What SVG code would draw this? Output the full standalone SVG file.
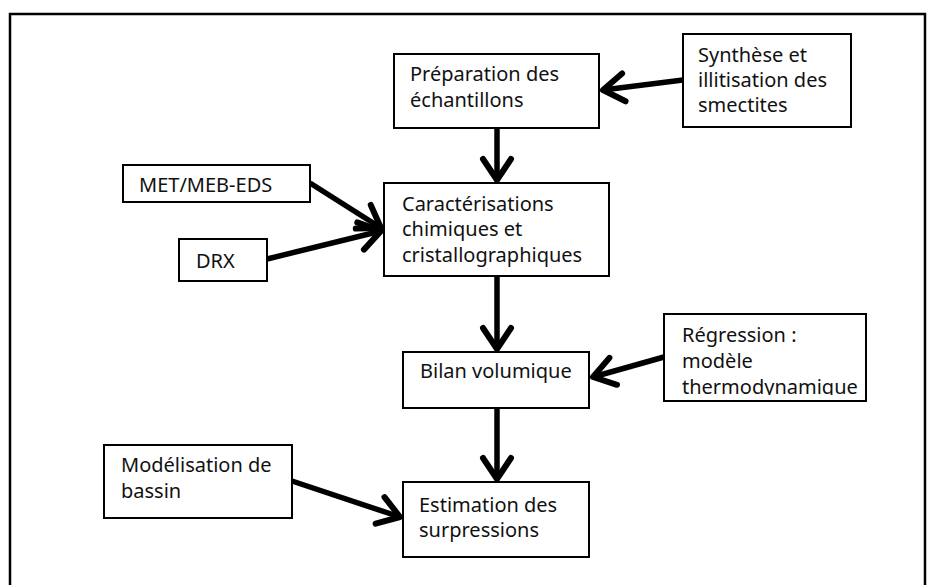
<svg xmlns="http://www.w3.org/2000/svg" width="930" height="585" viewBox="0 0 930 585">
<style>
.box{fill:#fff;stroke:#000;stroke-width:2}
.t{font-family:"Noto Sans","DejaVu Sans",sans-serif;font-size:20px;fill:#111}
.c{stroke:#000;stroke-width:5.5;fill:none;marker-end:url(#arr)}
</style>
<defs>
<marker id="arr" markerUnits="userSpaceOnUse" markerWidth="60" markerHeight="60" viewBox="-30 -30 60 60" refX="0" refY="0" orient="auto" overflow="visible">
<path d="M-21,-14 L0,0 L-21,14" fill="none" stroke="#000" stroke-width="6" stroke-linejoin="round" stroke-linecap="round"/>
</marker>
<clipPath id="clipReg"><rect x="664" y="314" width="202" height="81"/></clipPath>
</defs>
<rect x="0" y="0" width="930" height="585" fill="#fff"/>
<path d="M10,600 L10,14 L925,14 L925,600" fill="none" stroke="#000" stroke-width="2.5"/>

<g id="connectors">
<line class="c" x1="683" y1="80" x2="603" y2="90"/>
<line class="c" x1="497" y1="128" x2="497" y2="180"/>
<line class="c" x1="310" y1="183" x2="381" y2="228"/>
<line class="c" x1="267" y1="259" x2="381" y2="231"/>
<line class="c" x1="497" y1="276" x2="497" y2="349"/>
<line class="c" x1="664" y1="357" x2="593" y2="377"/>
<line class="c" x1="497" y1="408" x2="497" y2="479"/>
<line class="c" x1="292" y1="481" x2="400" y2="517"/>
</g>

<g id="preparation">
<rect class="box" x="394" y="54" width="205" height="74"/>
<text class="t" x="410" y="81">Préparation des</text>
<text class="t" x="410" y="107">échantillons</text>
</g>
<g id="synthese">
<rect class="box" x="683" y="34" width="168" height="93"/>
<text class="t" x="698" y="62">Synthèse et</text>
<text class="t" x="698" y="87">illitisation des</text>
<text class="t" x="698" y="112">smectites</text>
</g>
<g id="met">
<rect class="box" x="123" y="165" width="187" height="37"/>
<text class="t" x="139" y="192">MET/MEB-EDS</text>
</g>
<g id="drx">
<rect class="box" x="179" y="239" width="88" height="42"/>
<text class="t" x="196" y="268">DRX</text>
</g>
<g id="caracterisations">
<rect class="box" x="384" y="183" width="225" height="93"/>
<text class="t" x="402" y="211">Caractérisations</text>
<text class="t" x="402" y="236">chimiques et</text>
<text class="t" x="402" y="262">cristallographiques</text>
</g>
<g id="bilan">
<rect class="box" x="403" y="352" width="186" height="56"/>
<text class="t" x="420" y="378">Bilan volumique</text>
</g>
<g id="regression">
<rect class="box" x="664" y="314" width="202" height="87"/>
<g clip-path="url(#clipReg)">
<text class="t" x="682" y="342">Régression :</text>
<text class="t" x="682" y="368">modèle</text>
<text class="t" x="682" y="394">thermodynamique</text>
</g>
</g>
<g id="modelisation">
<rect class="box" x="104" y="445" width="188" height="73"/>
<text class="t" x="121" y="472">Modélisation de</text>
<text class="t" x="121" y="498">bassin</text>
</g>
<g id="estimation">
<rect class="box" x="403" y="482" width="186" height="75"/>
<text class="t" x="419" y="512">Estimation des</text>
<text class="t" x="419" y="537">surpressions</text>
</g>
</svg>
